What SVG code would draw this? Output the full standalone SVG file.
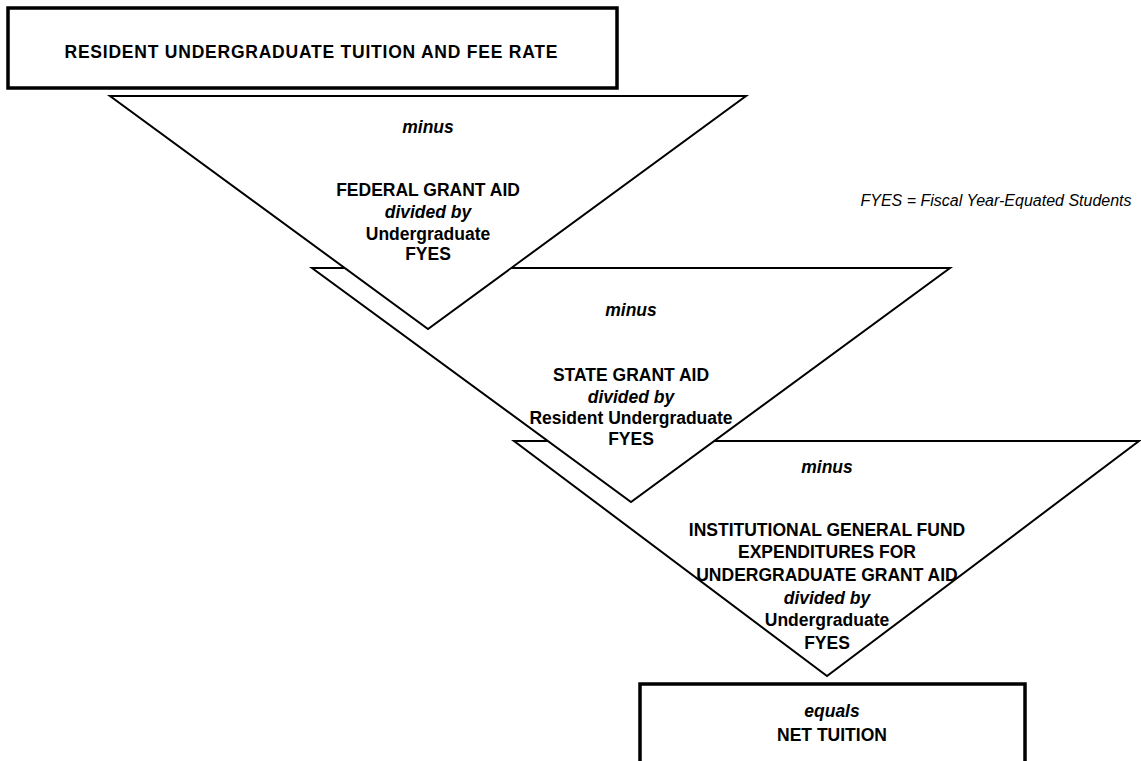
<svg xmlns="http://www.w3.org/2000/svg" width="1141" height="761" viewBox="0 0 1141 761">
<style>
.box{fill:#fff;stroke:#000;stroke-width:3.5}
.tri{fill:#fff;stroke:#000;stroke-width:2;stroke-linejoin:miter}
text{font-family:"Liberation Sans",Arial,sans-serif;font-size:17.5px;text-anchor:middle;fill:#000}
.b{font-weight:bold}
.bi{font-weight:bold;font-style:italic}
.i{font-style:italic;font-size:16px}
</style>
<rect width="1141" height="761" fill="#fff"/>
<g id="connectors"></g>
<g id="step3">
<polygon class="tri" points="514,441 1139,441 827,676"/>
<text class="bi" x="827" y="473">minus</text>
<text class="b" x="827" y="536">INSTITUTIONAL GENERAL FUND</text>
<text class="b" x="827" y="558">EXPENDITURES FOR</text>
<text class="b" x="827" y="581">UNDERGRADUATE GRANT AID</text>
<text class="bi" x="827" y="604">divided by</text>
<text class="b" x="827" y="626">Undergraduate</text>
<text class="b" x="827" y="649">FYES</text>
</g>
<g id="step2">
<polygon class="tri" points="312,268 950,268 631,502"/>
<text class="bi" x="631" y="316">minus</text>
<text class="b" x="631" y="381">STATE GRANT AID</text>
<text class="bi" x="631" y="403">divided by</text>
<text class="b" x="631" y="424">Resident Undergraduate</text>
<text class="b" x="631" y="445">FYES</text>
</g>
<g id="step1">
<polygon class="tri" points="110,96 746,96 428,329"/>
<text class="bi" x="428" y="133">minus</text>
<text class="b" x="428" y="196">FEDERAL GRANT AID</text>
<text class="bi" x="428" y="218">divided by</text>
<text class="b" x="428" y="240">Undergraduate</text>
<text class="b" x="428" y="260">FYES</text>
</g>
<g id="start">
<rect class="box" x="8" y="8" width="609" height="80"/>
<text class="b" x="311" y="58" textLength="493" lengthAdjust="spacing">RESIDENT UNDERGRADUATE TUITION AND FEE RATE</text>
</g>
<g id="result">
<rect class="box" x="640" y="684" width="385" height="90"/>
<text class="bi" x="832" y="717">equals</text>
<text class="b" x="832" y="741">NET TUITION</text>
</g>
<g id="legend">
<text class="i" x="996" y="206">FYES = Fiscal Year-Equated Students</text>
</g>
</svg>
